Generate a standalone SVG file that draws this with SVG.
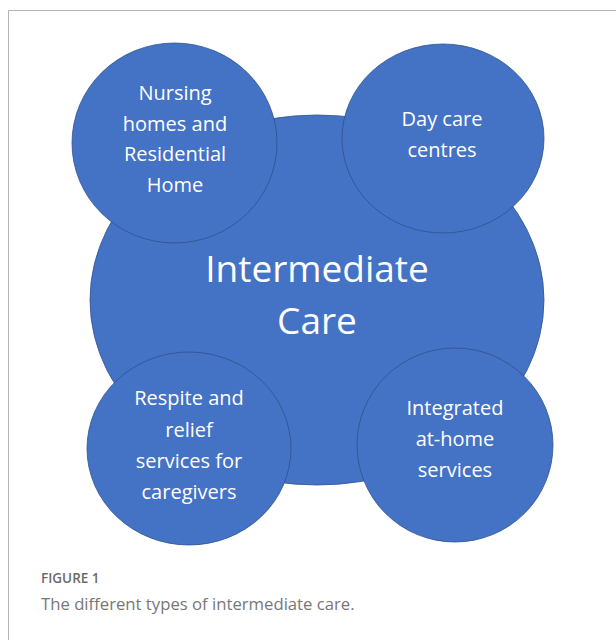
<svg xmlns="http://www.w3.org/2000/svg" width="616" height="640" viewBox="0 0 616 640">
<style>
.c{fill:#4472c4;stroke:#2f528f;stroke-width:0.8}
.t{font-family:"Open Sans","Noto Sans",sans-serif;fill:#fff;text-anchor:middle;font-size:20px}
.big{font-size:37px}
.cap1{font-family:"Open Sans","Noto Sans",sans-serif;fill:#6b6b6b;font-size:13.5px;font-weight:600}
.cap2{font-family:"Open Sans","Noto Sans",sans-serif;fill:#777;font-size:16.7px}
</style>
<rect width="616" height="640" fill="#fff"/>
<path d="M8.5 640 V10.5 H616" fill="none" stroke="#b5b5b5" stroke-width="1"/>
<g id="connectors"></g>
<g id="center">
<ellipse class="c" cx="317" cy="300" rx="227" ry="185" stroke="none"/>
<text class="t big" x="317" y="282">Intermediate</text>
<text class="t big" x="317" y="334">Care</text>
</g>
<g id="nursing">
<ellipse class="c" cx="174.5" cy="143" rx="102.5" ry="100"/>
<text class="t" x="175" y="100">Nursing</text>
<text class="t" x="175" y="130.5">homes and</text>
<text class="t" x="175" y="161">Residential</text>
<text class="t" x="175" y="192">Home</text>
</g>
<g id="daycare">
<ellipse class="c" cx="443" cy="138.5" rx="101" ry="94.5"/>
<text class="t" x="442" y="126">Day care</text>
<text class="t" x="442" y="157">centres</text>
</g>
<g id="respite">
<ellipse class="c" cx="189" cy="448.5" rx="102" ry="96.5"/>
<text class="t" x="189" y="405">Respite and</text>
<text class="t" x="189" y="436.5">relief</text>
<text class="t" x="189" y="468">services for</text>
<text class="t" x="189" y="499">caregivers</text>
</g>
<g id="integrated">
<ellipse class="c" cx="455" cy="445" rx="98" ry="97"/>
<text class="t" x="455" y="415">Integrated</text>
<text class="t" x="455" y="446">at-home</text>
<text class="t" x="455" y="477">services</text>
</g>
<text class="cap1" x="41" y="583">FIGURE 1</text>
<text class="cap2" x="41" y="610">The different types of intermediate care.</text>
</svg>
